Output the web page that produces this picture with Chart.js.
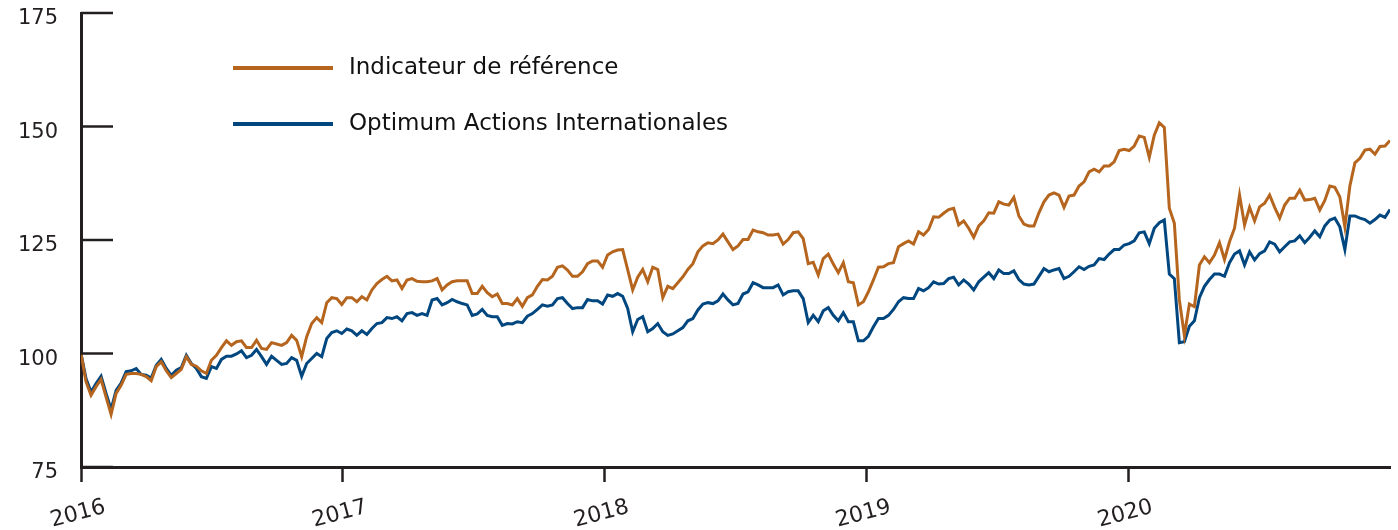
<!DOCTYPE html>
<html><head><meta charset="utf-8">
<script src="https://cdn.jsdelivr.net/npm/chart.js@4/dist/chart.umd.min.js"></script>
<style>html,body{margin:0;padding:0;background:#fff}#wrap{width:1398px;height:530px;position:relative}</style>
</head><body><div id="wrap"><canvas id="c"></canvas></div>
<script>
const yearLabels = ['2016','2017','2018','2019','2020'];
const seriesNames = ['Indicateur de référence','Optimum Actions Internationales'];
const yTicks = [75,100,125,150,175];
const benchmark = [
100,93.8,90.8,92.7,94.3,90.4,86.6,91.2,93,95.4,95.6,95.6,95.4,94.9,94,97.1,98.2,96.2,94.7,95.6,
96.5,99.3,97.6,97.2,96.2,95.6,98.5,99.6,101.3,102.8,101.8,102.6,102.8,101.3,101.3,102.9,101.1,100.9,102.4,102.1,
101.8,102.4,104,102.9,99.3,103.7,106.6,107.9,106.8,111.2,112.3,112.1,110.8,112.3,112.3,111.4,112.5,111.8,114,115.4,
116.3,117,116,116.2,114.3,116.2,116.5,115.9,
115.8,115.8,116,116.5,114,115.1,115.8,116,116,116,113.2,113.2,114.8,113.4,112.5,113.1,111,111,110.7,112.1,
110.4,112.3,112.9,114.8,116.3,116.2,117,119,119.3,118.4,117,117,118,119.8,120.4,120.4,119,121.7,122.4,122.8,
122.9,118.5,114,116.8,118.5,115.8,119,118.5,112.3,114.8,114.3,115.6,116.9,118.5,119.8,122.4,123.7,124.4,124.2,125,
126.3,124.6,122.9,123.7,125.1,125.1,
127.2,126.8,126.6,126.1,126.1,126.3,124.1,125.1,126.6,126.8,125.3,119.8,120.1,117.3,120.9,121.9,119.7,117.8,120,115.8,
115.6,110.7,111.4,113.6,116.2,119,119.1,119.8,120,123.5,124.2,124.8,124.1,126.8,126.1,127.3,130.1,130,130.9,131.7,
132,128.3,129.2,127.6,125.6,128.1,129.2,131,130.9,133.4,132.9,132.7,134.4,130.3,128.5,128.1,128.1,131,133.4,134.9,
135.4,134.9,132.2,134.7,134.9,136.9,
137.8,140,140.6,140,141.3,141.3,142.2,144.7,145,144.7,145.7,147.9,147.6,143.2,148.1,150.8,149.8,132,128.7,111.8,
104,110.9,110.3,119.5,121.3,120,121.7,124.4,120.7,124.6,127.6,134.9,128.3,132.2,129.2,132.3,133.1,134.9,132.2,129.8,
132.7,134.2,134.2,136,133.8,133.9,134.2,131.6,133.7,136.9,136.6,134.5,127.9,136.9,142,143,144.8,145,143.9,145.6,
145.7,146.9
];
const fund = [
100,94.5,91.5,93.4,95,91.2,87.7,91.9,93.5,96,96.2,96.7,95.4,95.2,94.6,97.4,98.7,96.7,95.2,96.3,
96.9,99.6,97.8,96.7,94.9,94.5,97.1,96.7,98.7,99.4,99.4,99.9,100.6,99.1,99.6,100.9,99.3,97.6,99.4,98.5,
97.6,97.8,99.1,98.5,95,97.8,98.9,100,99.3,103.3,104.6,105,104.4,105.4,105,104,105,104.2,105.5,106.6,
106.8,107.9,107.7,108.1,107.2,108.8,109,108.4,
108.8,108.4,111.8,112.1,110.7,111.2,111.9,111.4,111,110.7,108.4,108.7,109.7,108.4,108.1,108.1,106.2,106.6,106.5,107,
106.8,108.2,108.8,109.7,110.7,110.4,110.7,112.1,112.3,111,109.9,110.1,110.1,111.9,111.6,111.6,110.9,112.9,112.6,113.2,
112.6,109.9,104.8,107.5,108.1,104.8,105.5,106.6,104.8,104,104.3,105,105.7,107.2,107.7,109.6,110.9,111.2,111,111.6,
113.1,111.8,110.7,111,113.1,113.6,
115.6,115.1,114.5,114.5,114.5,115.1,112.9,113.6,113.8,113.8,112.1,106.8,108.4,107,109.4,110.1,108.4,107.2,109,107,
107,102.8,102.8,103.8,105.9,107.7,107.7,108.4,109.7,111.4,112.3,112.1,112.1,114.3,113.8,114.5,115.8,115.3,115.4,116.5,
116.8,115.1,116.2,115.3,114,115.8,116.8,117.8,116.5,118.4,117.6,117.6,118.2,116.3,115.3,115.1,115.3,117,118.7,118,
118.4,118.7,116.5,117,118,119.1,
118.5,119.2,119.5,120.9,120.7,121.9,122.9,122.9,123.9,124.2,124.8,126.6,126.8,124.2,127.6,128.8,129.4,117.5,116.5,102.4,
102.6,106,107.2,112.3,114.8,116.3,117.5,117.5,117,120,121.9,122.6,119.5,122.4,120.6,122,122.6,124.6,124.1,122.4,
123.5,124.6,124.8,125.9,124.4,125.6,127,125.7,128.1,129.4,129.8,127.9,122.9,130.3,130.3,129.8,129.5,128.7,129.5,130.5,
130,131.7
];
const startYear = 2016, endYear = 2021;
const toPoints = arr => arr.map((v, i) => ({x: startYear + i * (endYear - startYear) / (arr.length - 1), y: v}));

const INK = '#231f20';
const FONT = '"DejaVu Sans", sans-serif';

const decor = {
  id: 'decor',
  afterDraw(chart) {
    const {ctx, chartArea: a, scales: {x, y}} = chart;
    ctx.save();
    ctx.strokeStyle = INK; ctx.lineWidth = 2.5; ctx.lineCap = 'butt';
    y.ticks.forEach(t => {
      const py = y.getPixelForValue(t.value);
      ctx.beginPath(); ctx.moveTo(a.left, py); ctx.lineTo(a.left + 32, py); ctx.stroke();
    });
    ctx.font = '22px ' + FONT; ctx.fillStyle = INK;
    ctx.textAlign = 'center'; ctx.textBaseline = 'middle';
    yearLabels.forEach(lbl => {
      const px = x.getPixelForValue(Number(lbl));
      ctx.save(); ctx.translate(px - 3, a.bottom + 47); ctx.rotate(-15 * Math.PI / 180);
      ctx.fillText(lbl, 0, 0); ctx.restore();
    });
    ctx.font = '23px ' + FONT; ctx.textAlign = 'left';
    chart.data.datasets.forEach((ds, i) => {
      const ly = a.top + 55 + i * 56;
      ctx.strokeStyle = ds.borderColor; ctx.lineWidth = 4;
      ctx.beginPath(); ctx.moveTo(a.left + 152, ly); ctx.lineTo(a.left + 252, ly); ctx.stroke();
      ctx.fillStyle = '#111'; ctx.fillText(ds.label, a.left + 268, ly);
    });
    ctx.restore();
  }
};

new Chart(document.getElementById('c'), {
  type: 'line',
  data: {
    datasets: [
      {label: seriesNames[0], data: toPoints(benchmark), borderColor: '#b5651d', borderWidth: 3, pointRadius: 0, tension: 0, fill: false},
      {label: seriesNames[1], data: toPoints(fund), borderColor: '#00467f', borderWidth: 3, pointRadius: 0, tension: 0, fill: false}
    ]
  },
  options: {
    responsive: true, maintainAspectRatio: false, animation: false,
    layout: {padding: {top: 13, right: 8, left: 0, bottom: 0}},
    plugins: {legend: {display: false}, tooltip: {enabled: false}},
    scales: {
      x: {
        type: 'linear', min: startYear, max: endYear,
        afterBuildTicks: s => { s.ticks = yearLabels.map(v => ({value: Number(v)})); },
        afterFit: s => { s.height = 63; s.paddingLeft = 0; s.paddingRight = 0; },
        ticks: {display: false},
        grid: {drawOnChartArea: false, drawTicks: true, tickLength: 15, tickWidth: 2.5, tickColor: INK},
        border: {display: true, color: INK, width: 3}
      },
      y: {
        min: 75, max: 175,
        afterBuildTicks: s => { s.ticks = yTicks.map(v => ({value: v})); },
        afterFit: s => { s.width = 81; s.paddingTop = 0; s.paddingBottom = 0; },
        ticks: {font: {family: FONT, size: 21}, color: INK, padding: 23, labelOffset: 6},
        grid: {drawOnChartArea: false, drawTicks: false},
        border: {display: true, color: INK, width: 3}
      }
    }
  },
  plugins: [decor]
});
</script>
</body></html>
